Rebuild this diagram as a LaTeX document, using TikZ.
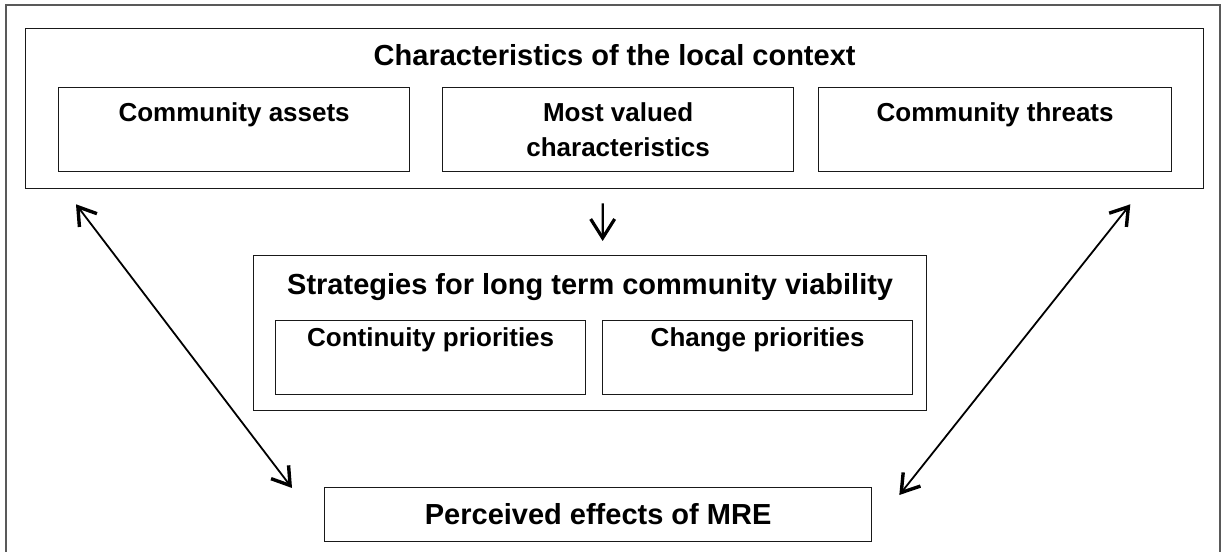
\documentclass[tikz,border=0pt]{standalone}
\usepackage{fontspec}
\setmainfont{Liberation Sans}
\usetikzlibrary{arrows.meta,positioning}
\begin{document}
\begin{tikzpicture}[x=1bp,y=-1bp,
  box/.style={draw=black!90,line width=1.3bp,rectangle,inner sep=0pt,anchor=north west},
  ttl/.style={font=\bfseries\fontsize{29bp}{35bp}\selectfont,anchor=base,inner sep=0pt},
  lbl/.style={font=\bfseries\fontsize{26bp}{35bp}\selectfont,anchor=base,inner sep=0pt,align=center},
  dbl/.style={line width=1.8bp,{Straight Barb[length=17bp,width=22bp,line width=3.4bp]}-{Straight Barb[length=17bp,width=22bp,line width=3.4bp]}},
  down/.style={line width=2.2bp,-{Straight Barb[length=19bp,width=24bp,line width=3.2bp]}}]
\useasboundingbox (0,0) rectangle (1224,552);
% outer frame (continues past bottom)
\draw[draw=black!65,line width=2bp] (6,552) -- (6,5) -- (1220,5) -- (1220,552);
% boxes
\node[box,minimum width=1178bp,minimum height=160bp] (ctx) at (25,28) {};
\node[box,minimum width=351bp,minimum height=84bp] (assets) at (58,87) {};
\node[box,minimum width=351bp,minimum height=84bp] (valued) at (442,87) {};
\node[box,minimum width=353bp,minimum height=84bp] (threats) at (818,87) {};
\node[box,minimum width=673bp,minimum height=155bp] (strat) at (253,255) {};
\node[box,minimum width=310bp,minimum height=74bp] (cont) at (275,320) {};
\node[box,minimum width=310bp,minimum height=74bp] (change) at (602,320) {};
\node[box,minimum width=547bp,minimum height=54bp] (perc) at (324,487) {};
% texts
\node[ttl] (ctxt) at ([shift={(0,37.5)}]ctx.north) {Characteristics of the local context};
\node[lbl] (assetst) at ([shift={(0,35)}]assets.north) {Community assets};
\node[lbl] (valuedt) at ([shift={(0,70)}]valued.north) {Most valued\\characteristics};
\node[lbl] (threatst) at ([shift={(0,35)}]threats.north) {Community threats};
\node[ttl] (stratt) at ([shift={(0,40)}]strat.north) {Strategies for long term community viability};
\node[lbl] (contt) at ([shift={(0,27)}]cont.north) {Continuity priorities};
\node[lbl] (changet) at ([shift={(0,27)}]change.north) {Change priorities};
\node[ttl] (perct) at ([shift={(0,37)}]perc.north) {Perceived effects of MRE};
% connectors
\draw[down] ([shift={(-12,14)}]ctx.south) -- ([shift={(12.5,-14)}]strat.north);
\draw[dbl] ([shift={(51,15)}]ctx.south west) -- ([shift={(-32,1)}]perc.north west);
\draw[dbl] ([shift={(-74,15)}]ctx.south east) -- ([shift={(27,8)}]perc.north east);
\end{tikzpicture}
\end{document}
